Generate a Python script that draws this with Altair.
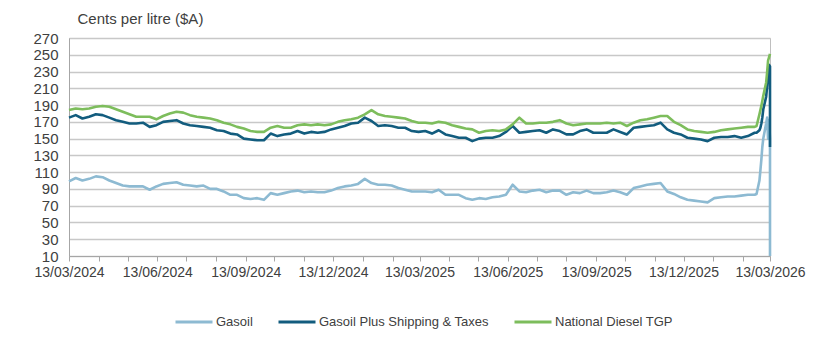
import altair as alt
import pandas as pd

series_names = ["Gasoil", "Gasoil Plus Shipping & Taxes", "National Diesel TGP"]
series_colors = ["#8DBAD2", "#125C7E", "#7DBD5C"]

# weekly readings from 13/03/2024 (one per week, 103 weeks)
weekly_start = "2024-03-13"
gasoil_weekly = [
    99, 103, 100, 102, 105, 104, 100, 97, 94, 93, 93, 93, 89, 93, 96, 97, 98, 95, 94, 93,
    94, 90, 90, 87, 83, 83, 79,
    78, 79, 77, 85, 83, 85, 87, 88, 86, 87, 86, 86, 88, 91, 93, 94, 96, 102, 97, 95,
    95, 94, 91, 89, 87, 87,
    87, 86, 89, 83, 83, 83, 79, 77, 79, 78, 80, 81, 83, 95, 87, 86, 88, 89, 86, 88,
    88, 83, 86, 85, 88, 85,
    85, 86, 88, 86, 83, 91, 93, 95, 96, 97, 87, 84, 80, 77, 76, 75, 74, 79, 80, 81,
    81, 82, 83, 83,
]
gpst_weekly = [
    175, 178, 174, 176, 179, 178, 175, 172, 170, 168, 168, 169, 164, 166, 170, 171, 172, 168, 166, 165,
    164, 163, 160, 159, 156, 155, 150,
    149, 148, 148, 156, 153, 155, 156, 159, 156, 158, 157, 158, 161, 163, 165, 168, 169, 175, 171, 165,
    166, 165, 163, 163, 159, 158,
    159, 156, 160, 155, 153, 151, 151, 147, 150, 151, 151, 153, 158, 165, 157, 158, 159, 160, 157, 161,
    159, 155, 155, 159, 161, 157,
    157, 157, 161, 158, 155, 163, 164, 165, 166, 169, 161, 157, 155, 151, 150, 149, 147, 151, 152, 152,
    153, 151, 153, 157,
]
tgp_weekly = [
    184, 186, 185, 186, 188, 189, 188, 185, 182, 179, 176, 176, 176, 173, 177, 180, 182, 181, 178, 176,
    175, 174, 172, 169, 167, 164, 162,
    159, 158, 158, 163, 165, 163, 163, 166, 167, 166, 167, 166, 167, 170, 172, 173, 175, 179, 184, 179,
    177, 176, 175, 174, 171, 169,
    169, 168, 170, 169, 166, 164, 162, 161, 157, 159, 160, 159, 161, 167, 175, 168, 168, 169, 169, 170,
    172, 168, 166, 167, 168, 168,
    168, 169, 168, 169, 165, 169, 172, 173, 175, 177, 177, 170, 166, 161, 159, 158, 157, 158, 160, 161,
    162, 163, 164, 164,
]

# daily readings over the final spike
end_dates = ["2026-02-27", "2026-03-02", "2026-03-03", "2026-03-04", "2026-03-05", "2026-03-06",
             "2026-03-09", "2026-03-10", "2026-03-11", "2026-03-12", "2026-03-13"]
gasoil_end = [84, 100, 112, 125, 140, 150, 168, 175, 150, 172, 150]
gpst_end = [157, 160, 163, 168, 175, 185, 200, 212, 225, 238, 236]
tgp_end = [165, 179, 184, 189, 195, 201, 217, 229, 243, 247, 251]

# last recorded value drops away on the final day
drop_date = "2026-03-13"
gasoil_drop = [10]
gpst_drop = [140]

weekly_dates = [d.strftime("%Y-%m-%d") for d in pd.date_range(weekly_start, periods=len(tgp_weekly), freq="7D")]

rows = []
def add(name, dates, vals):
    for d, v in zip(dates, vals):
        rows.append({"date": d, "value": v, "series": name, "idx": len(rows)})

add(series_names[0], weekly_dates + end_dates + [drop_date], gasoil_weekly + gasoil_end + gasoil_drop)
add(series_names[1], weekly_dates + end_dates + [drop_date], gpst_weekly + gpst_end + gpst_drop)
add(series_names[2], weekly_dates + end_dates, tgp_weekly + tgp_end)
df = pd.DataFrame(rows)

y_ticks = list(range(10, 271, 20))
month_ticks = []
for i in range(25):
    m = (3 - 1 + i) % 12 + 1
    y = 2024 + (3 - 1 + i) // 12
    month_ticks.append(alt.DateTime(year=y, month=m, date=13, utc=True))

color = alt.Color(
    "series:N",
    scale=alt.Scale(domain=series_names, range=series_colors),
    legend=alt.Legend(
        title=None, orient="none", direction="horizontal",
        legendX=105, legendY=264,
        symbolType="stroke", symbolSize=1369, symbolStrokeWidth=3,
        labelFontSize=13, labelColor="#404040", labelOffset=2,
        columnPadding=19, labelLimit=400,
    ),
)

x = alt.X(
    "date:T",
    scale=alt.Scale(type="utc", domain=[alt.DateTime(year=2024, month=3, date=13, utc=True),
                                        alt.DateTime(year=2026, month=3, date=13, utc=True)]),
    axis=alt.Axis(
        title=None, values=month_ticks,
        labelExpr="utcmonth(datum.value) % 3 == 2 ? utcFormat(datum.value, '%d/%m/%Y') : ''",
        labelOverlap=False, labelFlush=False, labelFontSize=14, labelColor="#404040",
        labelPadding=4, tickSize=5, tickColor="#A6A6A6", domainColor="#A6A6A6", grid=False,
    ),
)
yenc = alt.Y(
    "value:Q",
    scale=alt.Scale(domain=[10, 270], nice=False, zero=False),
    axis=alt.Axis(
        title="Cents per litre ($A)", titleAngle=0, titleAlign="left", titleBaseline="middle",
        titleX=8, titleY=-20, titleFontSize=15, titleFontWeight="normal", titleColor="#404040",
        values=y_ticks, labelFontSize=15, labelColor="#404040", labelPadding=11, ticks=False,
        domainColor="#A6A6A6", grid=True, gridColor="#C8C8C8", gridWidth=1.3,
    ),
)

layers = []
for name in series_names:
    layers.append(
        alt.Chart(df).transform_filter(alt.datum.series == name)
        .mark_line(strokeWidth=2.6, strokeJoin="round")
        .encode(x=x, y=yenc, color=color, order=alt.Order("idx:Q"))
    )

chart = alt.layer(*layers).properties(
    width=701, height=218,
    autosize=alt.AutoSizeParams(type="none"),
    padding={"left": 69, "top": 38, "right": 59, "bottom": 84},
).configure(font="Liberation Sans").configure_view(stroke="#BFBFBF", strokeWidth=1)

chart.save("out.html", embed_options={"renderer": "svg", "actions": False})
